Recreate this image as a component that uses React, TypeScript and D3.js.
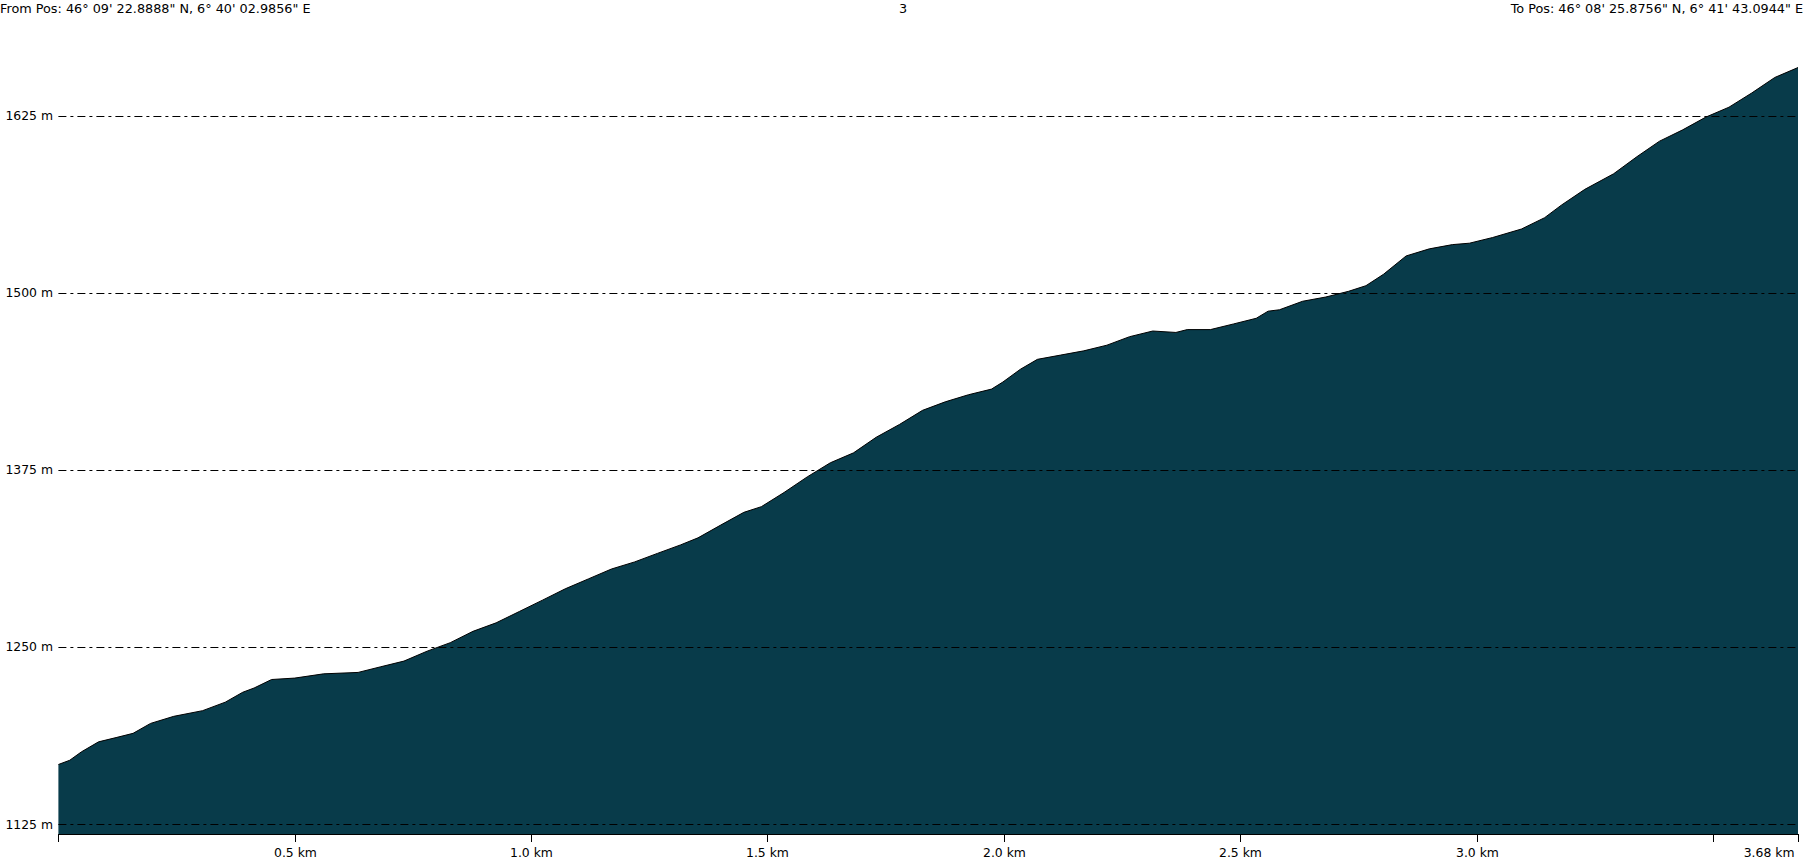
import * as d3 from "d3";

// distance along track (km) and elevation (m)
const distKm = [
  0, 0.024, 0.049, 0.085, 0.122, 0.158, 0.195, 0.244, 0.305, 0.353, 0.39, 0.414, 0.451, 0.5,
  0.561, 0.634, 0.682, 0.731, 0.78, 0.829, 0.877, 0.926, 0.975, 1.024, 1.072, 1.121, 1.17,
  1.219, 1.267, 1.316, 1.353, 1.401, 1.45, 1.487, 1.535, 1.584, 1.633, 1.682, 1.73, 1.779,
  1.828, 1.876, 1.925, 1.974, 1.998, 2.035, 2.071, 2.12, 2.169, 2.218, 2.266, 2.315, 2.364,
  2.388, 2.437, 2.486, 2.534, 2.559, 2.583, 2.632, 2.681, 2.729, 2.766, 2.803, 2.851, 2.9,
  2.949, 2.985, 3.034, 3.095, 3.144, 3.18, 3.229, 3.29, 3.339, 3.387, 3.436, 3.485, 3.534,
  3.582, 3.631, 3.68,
];
const elevM = [
  1167, 1170, 1176, 1183, 1186, 1189, 1196, 1201, 1205, 1211, 1218, 1221, 1227, 1228,
  1231, 1232, 1236, 1240, 1247, 1253, 1261, 1267, 1275, 1283, 1291, 1298, 1305,
  1310, 1316, 1322, 1327, 1336, 1345, 1349, 1359, 1370, 1380, 1387, 1398, 1407,
  1417, 1423, 1428, 1432, 1437, 1446, 1453, 1456, 1459, 1463, 1469, 1473, 1472,
  1474, 1474, 1478, 1482, 1487, 1488, 1494, 1497, 1501, 1505, 1513, 1526, 1531,
  1534, 1535, 1539, 1545, 1553, 1562, 1573, 1584, 1596, 1607, 1615, 1624, 1631,
  1641, 1652, 1659,
];
const yTicks = [1125, 1250, 1375, 1500, 1625];
const xTicks = [0, 0.5, 1.0, 1.5, 2.0, 2.5, 3.0, 3.5, 3.68];
const xTickLabels = ["", "0.5 km", "1.0 km", "1.5 km", "2.0 km", "2.5 km", "3.0 km", "", "3.68 km"];
const fromText = "From Pos: 46° 09' 22.8888\" N, 6° 40' 02.9856\" E";
const toText = "To Pos: 46° 08' 25.8756\" N, 6° 41' 43.0944\" E";
const titleText = "3";

const W = 1806;
const H = 863;
const left = 58.4;
const right = 1798;
const bottom = 834;
const font = "'DejaVu Sans', Verdana, sans-serif";

export default function App() {
  const x = d3.scaleLinear().domain([0, 3.68]).range([left, right]);
  const y = d3.scaleLinear().domain([1125, 1625]).range([824, 115.7]);
  const pts = distKm.map((d, i) => [d, elevM[i]] as [number, number]);

  const area = d3.area<[number, number]>()
    .x((d) => x(d[0]))
    .y0(bottom)
    .y1((d) => y(d[1]));
  const line = d3.line<[number, number]>()
    .x((d) => x(d[0]))
    .y((d) => y(d[1]));

  return (
    <svg
      width={W}
      height={H}
      style={{ position: "absolute", left: 0, top: 0, background: "#fff" }}
      fontFamily={font}
      fontSize={12.4}
    >
      <g fontSize={12.8}>
        <text x={0} y={13}>{fromText}</text>
        <text x={W / 2} y={13} textAnchor="middle">{titleText}</text>
        <text x={W - 3} y={13} textAnchor="end">{toText}</text>
      </g>

      <path d={area(pts)!} fill="#083B4A" />
      <path d={line(pts)!} fill="none" stroke="#000" strokeWidth={1} />

      {yTicks.map((t) => (
        <g key={t}>
          <line
            x1={left}
            x2={right}
            y1={Math.round(y(t)) + 0.5}
            y2={Math.round(y(t)) + 0.5}
            stroke="#000"
            strokeWidth={1}
            strokeDasharray="8,4,3,4"
          />
          <text x={53} y={y(t) + 4.5} textAnchor="end">{`${t} m`}</text>
        </g>
      ))}

      <line x1={left} x2={right} y1={bottom + 0.5} y2={bottom + 0.5} stroke="#000" />
      {xTicks.map((t, i) => {
        const px = Math.round(x(t)) + 0.5;
        const last = i === xTicks.length - 1;
        return (
          <g key={t}>
            <line x1={px} x2={px} y1={bottom} y2={bottom + 8} stroke="#000" />
            {xTickLabels[i] && (
              <text
                x={last ? px - 4 : px}
                y={857}
                textAnchor={last ? "end" : "middle"}
              >
                {xTickLabels[i]}
              </text>
            )}
          </g>
        );
      })}
    </svg>
  );
}
